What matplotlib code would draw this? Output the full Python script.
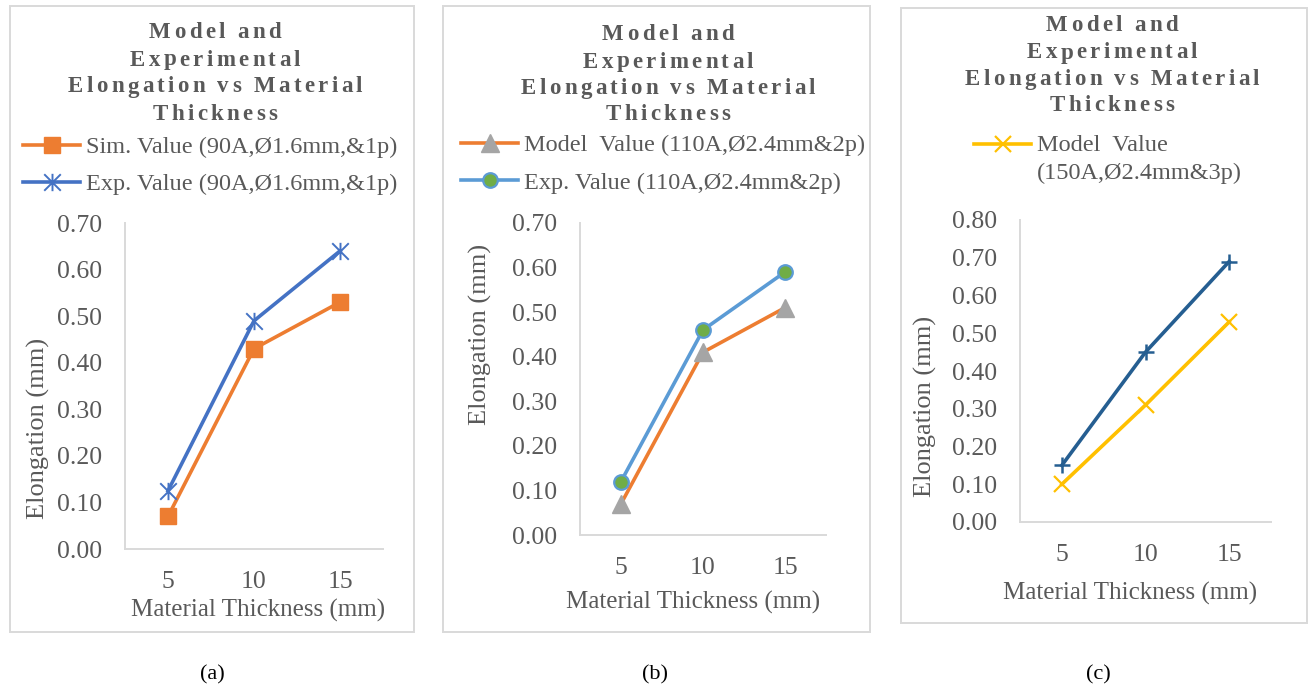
import numpy as np
import matplotlib
matplotlib.use("Agg")
import matplotlib.pyplot as plt
from matplotlib.path import Path
from matplotlib.patches import Rectangle
from matplotlib.legend_handler import HandlerLine2D
from matplotlib.ticker import FormatStrFormatter, MultipleLocator
from matplotlib import font_manager
from matplotlib.font_manager import FontProperties
from matplotlib.ft2font import FT2Font

# ---------------------------------------------------------------- data
thickness = ["5", "10", "15"]

a_sim = [0.07, 0.43, 0.53]
a_exp = [0.125, 0.49, 0.64]

b_model = [0.07, 0.41, 0.51]
b_exp = [0.12, 0.46, 0.59]

c_model = [0.10, 0.31, 0.53]
c_exp = [0.15, 0.45, 0.69]

title_lines = ["Model and", "Experimental", "Elongation vs Material", "Thickness"]
x_title = "Material Thickness (mm)"
y_title = "Elongation (mm)"
a_labels = ["Sim. Value (90A,\u00d81.6mm,&1p)", "Exp. Value (90A,\u00d81.6mm,&1p)"]
b_labels = ["Model  Value (110A,\u00d82.4mm&2p)", "Exp. Value (110A,\u00d82.4mm&2p)"]
c_labels = ["Model  Value\n(150A,\u00d82.4mm&3p)"]
captions = ["(a)", "(b)", "(c)"]

# ---------------------------------------------------------------- style
W, H, DPI = 1309, 691, 100
plt.rcParams["font.family"] = ["Liberation Serif", "DejaVu Serif"]
TXT = "#595959"
EDGE = "#D9D9D9"
ORANGE = "#ED7D31"
BLUE = "#4472C4"
LBLUE = "#5B9BD5"
GRAY = "#A5A5A5"
GREEN = "#70AD47"
YELLOW = "#FFC000"
DBLUE = "#255E91"
FS = 17.5        # legend text
TICK_FS = 18.5
XLAB_FS = 18
YLAB_FS = 19
LW = 2.6

fig = plt.figure(figsize=(W / DPI, H / DPI), dpi=DPI)
fig.patch.set_facecolor("white")


def fx(px):
    return px / W


def fy(py):
    return 1 - py / H


# letter-spaced bold chart titles
TITLE_PROPS = FontProperties(family="Liberation Serif", weight="bold", size=16.5)
_ft = FT2Font(font_manager.findfont(TITLE_PROPS), hinting_factor=1)
_ft.set_size(TITLE_PROPS.get_size_in_points(), DPI)
TRACK = 3.3


def advance(ch):
    return _ft.load_char(ord(ch)).linearHoriAdvance / 65536.0


def tracked_line(text, cx, baseline):
    widths = [advance(c) for c in text]
    total = sum(widths) + TRACK * (len(text) - 1)
    x = cx - total / 2
    for ch, w in zip(text, widths):
        if ch != " ":
            fig.text(fx(x), fy(baseline), ch, fontproperties=TITLE_PROPS,
                     color=TXT, ha="left", va="baseline")
        x += w + TRACK


def chart_title(cx, baselines):
    for line, b in zip(title_lines, baselines):
        tracked_line(line, cx, b)


def frame(l, t, r, b):
    fig.patches.append(Rectangle((fx(l), fy(b)), (r - l) / W, (b - t) / H,
                                 transform=fig.transFigure, fill=False,
                                 edgecolor=EDGE, lw=1.4))


def make_axes(l, t, r, b, ymax):
    ax = fig.add_axes([fx(l), fy(b), (r - l) / W, (b - t) / H])
    ax.set_facecolor("none")
    for s in ("top", "right"):
        ax.spines[s].set_visible(False)
    for s in ("left", "bottom"):
        ax.spines[s].set_color(EDGE)
        ax.spines[s].set_linewidth(1.4)
    ax.set_ylim(0, ymax)
    ax.yaxis.set_major_locator(MultipleLocator(0.1))
    ax.yaxis.set_major_formatter(FormatStrFormatter("%.2f"))
    ax.tick_params(axis="both", length=0, labelsize=TICK_FS, labelcolor=TXT)
    ax.tick_params(axis="y", pad=16.5)
    ax.tick_params(axis="x", pad=15.5)
    ax.set_xlabel(x_title, fontsize=XLAB_FS, color=TXT)
    ax.set_ylabel(y_title, fontsize=YLAB_FS, color=TXT)
    return ax


def finish_x(ax):
    ax.set_xlim(-0.5, len(thickness) - 0.5)


class FirstLineHandler(HandlerLine2D):
    """Line handle aligned with the first row of a two-line label."""

    def __init__(self, raise_pt, **kw):
        super().__init__(**kw)
        self.raise_pt = raise_pt

    def create_artists(self, legend, orig_handle, xdescent, ydescent,
                       width, height, fontsize, trans):
        return super().create_artists(legend, orig_handle, xdescent,
                                      ydescent - 2 * self.raise_pt, width,
                                      height, fontsize, trans)


def legend(ax, handles, labels, x, y, spacing=0.6, handler_map=None):
    return ax.legend(handles, labels, loc="upper left",
                     bbox_to_anchor=(fx(x), fy(y)), bbox_transform=fig.transFigure,
                     frameon=False, borderpad=0, borderaxespad=0,
                     handlelength=2.35, handletextpad=0.25, labelspacing=spacing,
                     fontsize=FS, labelcolor=TXT, handler_map=handler_map)


star = Path([(-1, -1), (1, 1), (-1, 1), (1, -1), (0, -1.05), (0, 1.05)],
            [Path.MOVETO, Path.LINETO] * 3)

# ---------------------------------------------------------------- (a)
frame(10, 6, 414, 632)
chart_title(215, [38.5, 65.5, 92.5, 119.5])
ax = make_axes(125, 223, 383, 549, 0.70)
la, = ax.plot(thickness, a_sim, color=ORANGE, lw=LW, marker="s", ms=12,
              mfc=ORANGE, mec=ORANGE, zorder=3)
lb, = ax.plot(thickness, a_exp, color=BLUE, lw=LW, marker=star, ms=12.5,
              mec=BLUE, mew=1.4, zorder=4)
finish_x(ax)
ax.yaxis.set_label_coords(-0.29, 0.371)
ax.xaxis.set_label_coords(0.515, -0.153)
legend(ax, [la, lb], a_labels, 23, 136, spacing=0.62)

# ---------------------------------------------------------------- (b)
frame(443, 6, 870, 632)
chart_title(668, [40, 67.5, 94, 120.5])
ax = make_axes(580, 223, 826, 535, 0.70)
la, = ax.plot(thickness, b_model, color=ORANGE, lw=LW, marker="^", ms=12.5,
              mfc=GRAY, mec=GRAY, zorder=3)
lb, = ax.plot(thickness, b_exp, color=LBLUE, lw=LW, marker="o", ms=10.5,
              mfc=GREEN, mec=LBLUE, mew=1.6, zorder=4)
finish_x(ax)
ax.yaxis.set_label_coords(-0.358, 0.644)
ax.xaxis.set_label_coords(0.459, -0.178)
legend(ax, [la, lb], b_labels, 461, 134, spacing=0.65)

# ---------------------------------------------------------------- (c)
frame(901, 8, 1307, 623)
chart_title(1112, [31, 58.5, 85, 111])
ax = make_axes(1020, 220, 1271, 522, 0.80)
lc, = ax.plot(thickness, c_model, color=YELLOW, lw=LW, marker="x", ms=12,
              mec=YELLOW, mew=1.6, zorder=3)
ax.plot(thickness, c_exp, color=DBLUE, lw=LW, marker="+", ms=12,
        mec=DBLUE, mew=1.8, zorder=4)
finish_x(ax)
ax.yaxis.set_label_coords(-0.331, 0.384)
ax.xaxis.set_label_coords(0.438, -0.2)
leg = legend(ax, [lc], c_labels, 974, 135,
             handler_map={lc: FirstLineHandler(raise_pt=11)})
for t in leg.get_texts():
    t.set_linespacing(1.4)

# ---------------------------------------------------------------- captions
for cap, cx in zip(captions, [212, 655, 1098]):
    fig.text(fx(cx), fy(675), cap, fontsize=16, color="black",
             ha="center", va="center")

fig.savefig("out.png", dpi=DPI, facecolor="white")
